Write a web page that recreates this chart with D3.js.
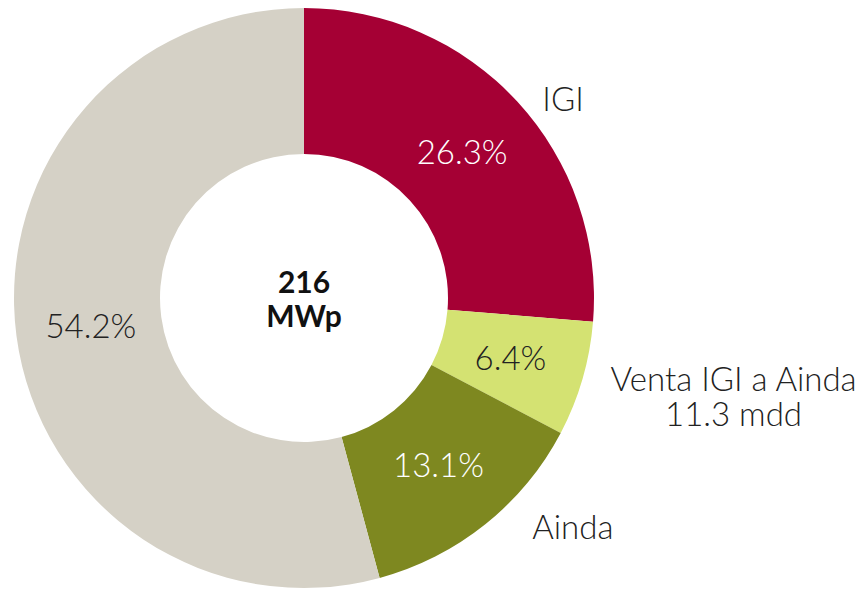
<!DOCTYPE html>
<html>
<head>
<meta charset="utf-8">
<script src="https://cdn.jsdelivr.net/npm/d3@7"></script>
<style>
  body { margin: 0; background: #fff; }
  text { font-family: Lato, "Noto Sans", sans-serif; }
</style>
</head>
<body>
<svg id="chart" width="862" height="589"></svg>
<script>
// data
const categorias = ["IGI", "Venta IGI a Ainda", "Ainda", "Otros"];
const valores = [26.3, 6.4, 13.1, 54.2];
const etiquetas = [["IGI"], ["Venta IGI a Ainda", "11.3 mdd"], ["Ainda"], []];
const colores = ["#a50034", "#d4e272", "#7e8820", "#d5d1c6"];
const colorTexto = ["#ffffff", "#222222", "#ffffff", "#222222"];
const totalTexto = ["216", "MWp"];

const cx = 304, cy = 298; // midden van de donut
const rOuter = 290, rInner = 144;

const svg = d3.select("#chart");
const g = svg.append("g").attr("transform", `translate(${cx},${cy})`);

const pie = d3.pie().sort(null).value(d => d);
const arcs = pie(valores);

const arc = d3.arc().innerRadius(rInner).outerRadius(rOuter);
const labelArc = d3.arc().innerRadius(215).outerRadius(215);

g.selectAll("path")
  .data(arcs)
  .join("path")
  .attr("d", arc)
  .attr("fill", (d, i) => colores[i]);

// percentages in de segmenten
g.selectAll("text.pct")
  .data(arcs)
  .join("text")
  .attr("class", "pct")
  .attr("transform", d => `translate(${labelArc.centroid(d)})`)
  .attr("text-anchor", "middle")
  .attr("dy", "0.35em")
  .attr("font-size", 33)
  .attr("font-weight", 300)
  .attr("fill", (d, i) => colorTexto[i])
  .text(d => d.data.toFixed(1) + "%");

// buitenste labels: straal en verschuiving per label
const outerR = [340, 440, 350, 0];
const shift = [[9, 32], [7, -24], [50, -44], [0, 0]];
arcs.forEach((d, i) => {
  if (!etiquetas[i].length) return;
  const a = (d.startAngle + d.endAngle) / 2;
  const x = Math.sin(a) * outerR[i] + shift[i][0];
  const y = -Math.cos(a) * outerR[i] + shift[i][1];
  const t = g.append("text")
    .attr("x", x)
    .attr("y", y)
    .attr("text-anchor", "middle")
    .attr("font-size", 33)
    .attr("font-weight", 300)
    .attr("fill", "#222");
  const n = etiquetas[i].length;
  etiquetas[i].forEach((line, j) => {
    t.append("tspan")
      .attr("x", x)
      .attr("dy", j === 0 ? `${0.35 - (n - 1) * 0.53}em` : "1.06em")
      .text(line);
  });
});

// totaal in het midden
const c = g.append("text")
  .attr("text-anchor", "middle")
  .attr("font-size", 30)
  .attr("font-weight", 700)
  .attr("fill", "#111");
totalTexto.forEach((line, j) => {
  c.append("tspan").attr("x", 0).attr("dy", j === 0 ? "-0.18em" : "1.15em").text(line);
});
</script>
</body>
</html>
